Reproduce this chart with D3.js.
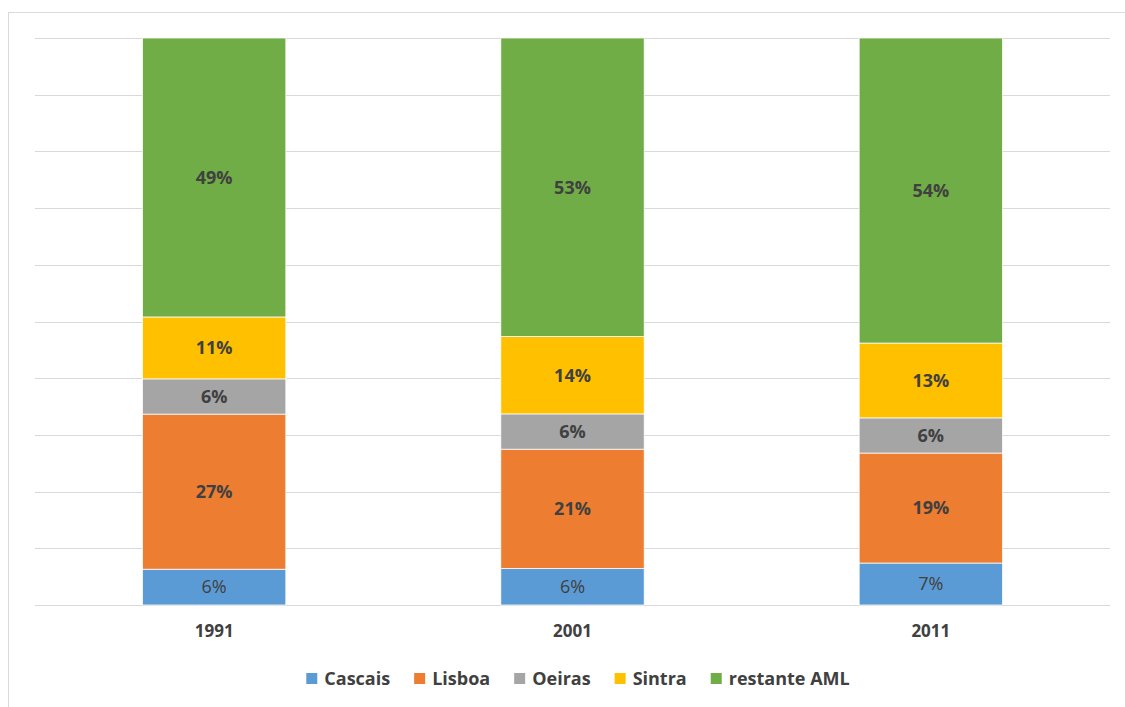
<!DOCTYPE html>
<meta charset="utf-8">
<script src="https://d3js.org/d3.v7.min.js"></script>
<style>
body { margin: 0; background: #fff; }
text { font-family: "Open Sans", Lato, sans-serif; fill: #404040; }
.axisText { font-size: 17px; font-weight: 700; }
.valueLabel { font-size: 18px; }
.legendText { font-size: 18px; font-weight: 700; }
</style>
<div id="chart"></div>
<script>
// data (share of total, %)
const years = ["1991", "2001", "2011"];
const seriesNames = ["Cascais", "Lisboa", "Oeiras", "Sintra", "restante AML"];
const cascais = [6.3, 6.4, 7.4];
const lisboa = [27.3, 21.0, 19.4];
const oeiras = [6.2, 6.2, 6.2];
const sintra = [10.9, 13.6, 13.2];
const restante = [49.1, 52.5, 53.8];
const colors = ["#5b9bd5", "#ed7d31", "#a5a5a5", "#ffc000", "#70ad47"];
const gridTicks = d3.range(0, 1.01, 0.1);

const W = 1125, H = 707;
const margin = {top: 38, right: 15, bottom: 102, left: 35};
const width = W - margin.left - margin.right,
      height = H - margin.top - margin.bottom;

const svg = d3.select("#chart").append("svg")
    .attr("width", W).attr("height", H);

// chart border
svg.append("rect")
    .attr("x", 8.5).attr("y", 12.5)
    .attr("width", W + 10).attr("height", H + 10)
    .attr("fill", "none").attr("stroke", "#d9d9d9");

const g = svg.append("g")
    .attr("transform", `translate(${margin.left},${margin.top})`);

const table = years.map((yr, i) => ({
  year: yr,
  "Cascais": cascais[i], "Lisboa": lisboa[i], "Oeiras": oeiras[i],
  "Sintra": sintra[i], "restante AML": restante[i]
}));

const stack = d3.stack().keys(seriesNames).offset(d3.stackOffsetExpand);
const layers = stack(table);

const x = d3.scaleBand().domain(years).range([0, width]).paddingInner(0.6).paddingOuter(0.3);
const y = d3.scaleLinear().domain([0, 1]).range([height, 0]);

// gridlines
g.append("g").selectAll("line")
  .data(gridTicks)
  .join("line")
    .attr("x1", 0).attr("x2", width)
    .attr("y1", d => Math.round(y(d)) + 0.5).attr("y2", d => Math.round(y(d)) + 0.5)
    .attr("stroke", "#d9d9d9").attr("stroke-width", 1);

// bars
const layer = g.selectAll(".layer")
  .data(layers)
  .join("g")
    .attr("fill", (d, i) => colors[i]);

layer.selectAll("rect")
  .data(d => d)
  .join("rect")
    .attr("x", d => x(d.data.year))
    .attr("y", d => y(d[1]))
    .attr("width", x.bandwidth())
    .attr("height", d => y(d[0]) - y(d[1]))
    .attr("stroke", "#fff").attr("stroke-width", 0.75);

// value labels
layers.forEach((ly, li) => {
  g.append("g").selectAll("text")
    .data(ly)
    .join("text")
      .attr("class", "valueLabel")
      .attr("x", d => x(d.data.year) + x.bandwidth() / 2)
      .attr("y", d => (y(d[0]) + y(d[1])) / 2)
      .attr("dy", "0.35em")
      .attr("text-anchor", "middle")
      .style("font-weight", li === 0 ? 400 : 700)
      .text(d => Math.round(d.data[ly.key] / (d.data.Cascais + d.data.Lisboa + d.data.Oeiras + d.data.Sintra + d.data["restante AML"]) * 100) + "%");
});

// x axis
g.append("g")
  .attr("transform", `translate(0,${height})`)
  .call(d3.axisBottom(x).tickSize(0).tickPadding(20))
  .call(a => a.select(".domain").remove())
  .selectAll("text")
    .attr("class", "axisText")
    .style("font-family", null);

// legend
const legend = svg.append("g").attr("transform", `translate(0,679)`);
const items = [];
seriesNames.forEach((name, i) => {
  const it = legend.append("g");
  it.append("rect").attr("x", 0).attr("y", -6).attr("width", 11).attr("height", 11)
    .attr("fill", colors[i]);
  const t = it.append("text").attr("class", "legendText")
    .attr("x", 18).attr("y", 0).attr("dy", "0.35em").text(name);
  const w = 18 + t.node().getComputedTextLength();
  items.push({it, w});
});
const gap = 24;
const total = d3.sum(items, d => d.w) + gap * (items.length - 1);
let lx = 578 - total / 2;
items.forEach(d => {
  d.it.attr("transform", `translate(${lx},0)`);
  lx += d.w + gap;
});
</script>
